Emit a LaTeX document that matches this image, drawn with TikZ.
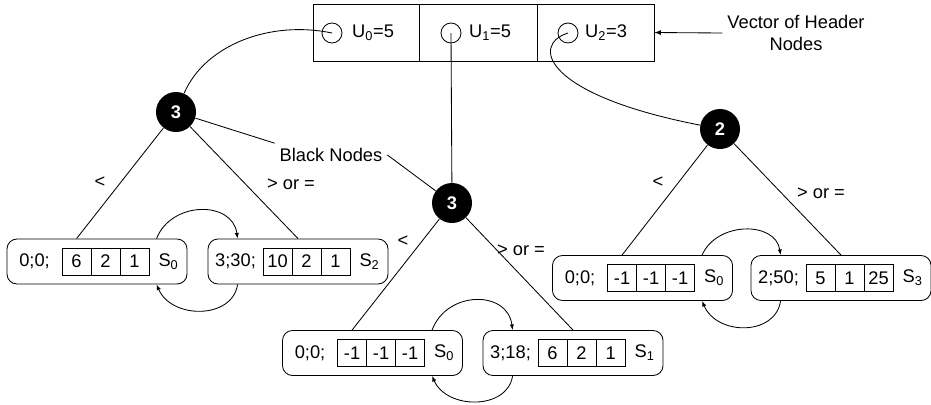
\documentclass[tikz,border=0pt]{standalone}
\usepackage{fontspec}
\setmainfont{Liberation Sans}
\usetikzlibrary{arrows.meta}
\usetikzlibrary{calc,shapes,positioning}

% one leaf record: rounded frame, key, three value cells and the state
\newcommand{\leafrec}[7]{%
  \node[leaf] (#1) at (#2) {};
  \node (#1k) at ($(#1.west)+(28,0)$) {#3};
  \node[cell, anchor=west] (#1a) at ($(#1.west)+(55.5,0)$) {#4};
  \node[cell, right=0pt of #1a] (#1b) {#5};
  \node[cell, right=0pt of #1b] (#1c) {#6};
  \node (#1s) at ($(#1.west)+(162,0)$) {S\textsubscript{#7}};
}

\begin{document}
\begin{tikzpicture}[x=0.025cm,y=-0.025cm,
          font=\fontsize{13}{15.6}\selectfont,
          line width=.6pt,
          hcell/.style={
            draw,
            rectangle,
            minimum height=1.425cm,
            inner sep=0pt},
          hook/.style={
            draw,
            circle,
            minimum size=.5cm,
            inner sep=0pt},
          blackNode/.style={
            circle,
            fill=black,
            text=white,
            font=\fontsize{13}{15.6}\selectfont\bfseries,
            minimum size=1cm,
            inner sep=0pt},
          leaf/.style={
            draw,
            rectangle,
            rounded corners=.25cm,
            minimum width=4.5cm,
            minimum height=1.125cm},
          cell/.style={
            draw,
            rectangle,
            minimum width=.725cm,
            minimum height=.675cm,
            inner sep=0pt,
            outer sep=0pt},
          swapArrow/.style={-{Latex[length=4pt,width=3pt]}}
          ]

          \useasboundingbox (0,0) rectangle (931,404);

          % header vector
          \node[hcell, minimum width=2.65cm] (h0) at (366,32.5) {};
          \node[hcell, minimum width=2.95cm] (h1) at (478,32.5) {};
          \node[hcell, minimum width=2.925cm] (h2) at (595.5,32.5) {};

          \node[hook] (c0) at (332,33) {};
          \node[hook] (c1) at (451,33) {};
          \node[hook] (c2) at (568,33) {};
          \node (u0) at (373,33) {U\textsubscript{0}=5};
          \node (u1) at (490,33) {U\textsubscript{1}=5};
          \node (u2) at (606,33) {U\textsubscript{2}=3};

          \node[align=center] (vec) at (796,33) {Vector of Header\\Nodes};
          \draw[-latex] (vec.west) -- (h2.east);

          % black nodes
          \node[blackNode] (bL) at (176,112) {3};
          \node[blackNode] (bM) at (452,203) {3};
          \node[blackNode] (bR) at (720,129) {2};

          \draw (c0.center) .. controls (270,20) and (205,45) .. (bL);
          \draw (c1.center) -- (bM);
          \draw (c2.center) .. controls (530,45) and (545,95) .. (bR);

          \node (blk) at (331,155) {Black Nodes};
          \draw (bL) -- (blk.north west);
          \draw (blk.east) -- (bM);

          % leaves
          \leafrec{lL}{97,261.5}{0;0;}{6}{2}{1}{0}
          \leafrec{lR}{298,261.5}{3;30;}{10}{2}{1}{2}
          \leafrec{mL}{372.5,353}{0;0;}{-1}{-1}{-1}{0}
          \leafrec{mR}{573,353}{3;18;}{6}{2}{1}{1}
          \leafrec{rL}{642.5,278}{0;0;}{-1}{-1}{-1}{0}
          \leafrec{rR}{841,278}{2;50;}{5}{1}{25}{3}

          % branches
          \draw (bL) -- ($(lL.north west)+(70,0)$);
          \draw (bL) -- (lR.north);
          \draw (bM) -- ($(mL.north west)+(70,0)$);
          \draw (bM) -- (mR.north);
          \draw (bR) -- ($(rL.north west)+(70,0)$);
          \draw (bR) -- (rR.north);

          \node (ltL) at (100,182) {<};
          \node (geL) at (291,184) {> or =};
          \node (ltM) at (403,241) {<};
          \node (geM) at (521,250) {> or =};
          \node (ltR) at (658,182) {<};
          \node (geR) at (821,193) {> or =};

          % swaps between sibling leaves
          \draw[swapArrow] ($(lL.north west)+(150,0)$) .. controls +(15,-38) and +(-5,-38) .. ($(lR.north west)+(30,0)$);
          \draw[swapArrow] ($(lR.south west)+(30,0)$) .. controls +(-5,35) and +(15,35) .. ($(lL.south west)+(150,0)$);
          \draw[swapArrow] ($(mL.north west)+(150,0)$) .. controls +(15,-40) and +(-5,-40) .. ($(mR.north west)+(30,0)$);
          \draw[swapArrow] ($(mR.south west)+(30,0)$) .. controls +(-5,34) and +(15,34) .. ($(mL.south west)+(150,0)$);
          \draw[swapArrow] ($(rL.north west)+(150,0)$) .. controls +(15,-34) and +(-5,-34) .. ($(rR.north west)+(30,0)$);
          \draw[swapArrow] ($(rR.south west)+(30,0)$) .. controls +(-5,35) and +(15,35) .. ($(rL.south west)+(150,0)$);
        \end{tikzpicture}
\end{document}
